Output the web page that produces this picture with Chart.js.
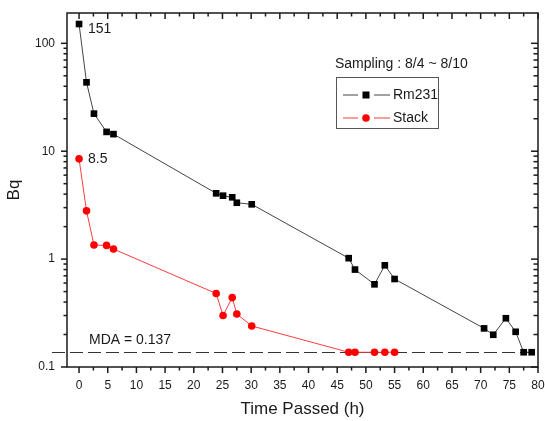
<!DOCTYPE html>
<html>
<head>
<meta charset="utf-8">
<title>Bq vs Time Passed</title>
<script src="https://cdn.jsdelivr.net/npm/chart.js@4.4.1/dist/chart.umd.min.js"></script>
<style>
    html, body { margin: 0; padding: 0; background: #fff; }
    #wrap { width: 545px; height: 421px; }
</style>
</head>
<body>
<div id="wrap"><canvas id="bqChart" width="545" height="421"></canvas></div>
<script>
(function () {
    'use strict';

    // ── Data ────────────────────────────────────────────────
    const timeHours = [0, 1.3, 2.6, 4.8, 6.0, 23.9, 25.1, 26.7, 27.5, 30.1,
                       47.0, 48.1, 51.5, 53.3, 55.0, 70.6, 72.2, 74.4, 76.1, 77.5, 78.9];
    const rm231     = [151, 43.5, 22.3, 15.1, 14.4, 4.07, 3.87, 3.74, 3.33, 3.22,
                       1.02, 0.80, 0.584, 0.876, 0.654, 0.228, 0.199, 0.283, 0.212, 0.137, 0.137];
    const stack     = [8.5, 2.8, 1.35, 1.34, 1.24, 0.48, 0.30, 0.44, 0.31, 0.24,
                       0.137, 0.137, 0.137, 0.137, 0.137];
    const seriesNames = ['Rm231', 'Stack'];
    const mdaValue    = 0.137;
    const yDecades    = [0.1, 1, 10, 100];
    const xMajorStep  = 5;
    const xRange      = [-2.1, 80];
    const yRange      = [0.1, 191];

    const FONT = "'Liberation Sans', Arial, sans-serif";
    const INK  = '#1a1a1a';

    Chart.defaults.font.family = FONT;
    Chart.defaults.color       = INK;

    const toPoints = (vals) => vals.map((v, i) => ({ x: timeHours[i], y: v }));

    // ── Frame, ticks, MDA line, notes, legend ───────────────
    const originStyle = {
        id: 'originStyle',
        beforeDatasetsDraw(chart) {
            const { ctx, chartArea: a, scales: { y } } = chart;
            const py = Math.round(y.getPixelForValue(mdaValue)) + 0.5;
            ctx.save();
            ctx.strokeStyle = '#333';
            ctx.lineWidth   = 1;
            ctx.setLineDash([13, 5]);
            ctx.beginPath();
            ctx.moveTo(a.left - 15, py);
            ctx.lineTo(a.right, py);
            ctx.stroke();
            ctx.restore();
        },
        afterDraw(chart) {
            const { ctx, chartArea: a, scales: { x, y } } = chart;
            ctx.save();
            ctx.strokeStyle = INK;
            ctx.lineWidth   = 1.5;
            ctx.strokeRect(a.left, a.top, a.right - a.left, a.bottom - a.top);

            const tick = (x1, y1, x2, y2) => {
                ctx.beginPath(); ctx.moveTo(x1, y1); ctx.lineTo(x2, y2); ctx.stroke();
            };

            // x ticks: outward at bottom, inward at top
            for (let v = 0; v <= xRange[1] + 0.01; v += xMajorStep / 2) {
                const px  = x.getPixelForValue(v);
                const len = (v % xMajorStep === 0) ? 6 : 3.5;
                tick(px, a.bottom, px, a.bottom + len);
                tick(px, a.top, px, a.top + len);
            }
            // y ticks: outward at left, inward at right
            yDecades.forEach(d => {
                for (let k = 1; k <= 9; k++) {
                    const v = k * d;
                    if (v > yRange[1]) break;
                    const py  = y.getPixelForValue(v);
                    const len = (k === 1) ? 6 : 3.5;
                    tick(a.left - len, py, a.left, py);
                    tick(a.right - len - 1, py, a.right, py);
                }
            });

            // point notes
            ctx.fillStyle    = INK;
            ctx.font         = '14px ' + FONT;
            ctx.textAlign    = 'left';
            ctx.textBaseline = 'middle';
            ctx.fillText(String(rm231[0]), x.getPixelForValue(timeHours[0]) + 9, y.getPixelForValue(rm231[0]) + 5);
            ctx.fillText(String(stack[0]), x.getPixelForValue(timeHours[0]) + 9, y.getPixelForValue(stack[0]));
            ctx.fillText('MDA = ' + mdaValue, a.left + 22, y.getPixelForValue(mdaValue) - 12);

            // legend block
            ctx.fillText('Sampling : 8/4 ~ 8/10', 335, 64);
            ctx.lineWidth = 1;
            ctx.strokeStyle = '#555';
            ctx.strokeRect(336.5, 77.5, 102, 51);
            const entries = [
                { name: seriesNames[0], line: '#444', fill: '#000', style: 'rect',   yy: 95 },
                { name: seriesNames[1], line: '#ff3b3b', fill: '#ff0000', style: 'circle', yy: 118 }
            ];
            entries.forEach(e => {
                ctx.strokeStyle = e.line;
                tick(343, e.yy, 358, e.yy);
                tick(374, e.yy, 390, e.yy);
                ctx.fillStyle = e.fill;
                if (e.style === 'rect') {
                    ctx.fillRect(362.5, e.yy - 3.5, 7, 7);
                } else {
                    ctx.beginPath(); ctx.arc(366, e.yy, 3.8, 0, Math.PI * 2); ctx.fill();
                }
                ctx.fillStyle = INK;
                ctx.fillText(e.name, 393, e.yy);
            });
            ctx.restore();
        }
    };

    new Chart(document.getElementById('bqChart'), {
        type: 'scatter',
        data: {
            datasets: [
                {
                    label:           seriesNames[0],
                    data:            toPoints(rm231),
                    showLine:        true,
                    borderColor:     '#444',
                    borderWidth:     1,
                    backgroundColor: '#000',
                    pointStyle:      'rect',
                    pointRadius:     4.7,
                    pointBorderWidth: 0,
                    pointBackgroundColor: '#000'
                },
                {
                    label:           seriesNames[1],
                    data:            toPoints(stack),
                    showLine:        true,
                    borderColor:     '#ff3b3b',
                    borderWidth:     1,
                    backgroundColor: '#ff0000',
                    pointStyle:      'circle',
                    pointRadius:     3.8,
                    pointBorderWidth: 0,
                    pointBackgroundColor: '#ff0000'
                }
            ]
        },
        options: {
            responsive: false,
            animation:  false,
            layout: { padding: { top: 13, right: 7, left: 0, bottom: 0 } },
            plugins: {
                legend:  { display: false },
                tooltip: { enabled: false }
            },
            scales: {
                x: {
                    type: 'linear',
                    min:  xRange[0],
                    max:  xRange[1],
                    grid:   { display: false, drawTicks: false },
                    border: { display: false },
                    ticks: {
                        stepSize: xMajorStep,
                        includeBounds: false,
                        autoSkip: false,
                        maxRotation: 0,
                        padding: 11,
                        font: { size: 12 },
                        callback: v => (v % xMajorStep === 0 ? String(v) : '')
                    },
                    title: {
                        display: true,
                        text: 'Time Passed (h)',
                        font: { size: 17 },
                        padding: { top: 0, bottom: 1 }
                    },
                    afterFit: s => {
                        s.height = 54;
                        s.paddingLeft = 0;
                        s.paddingRight = 0;
                    }
                },
                y: {
                    type: 'logarithmic',
                    min:  yRange[0],
                    max:  yRange[1],
                    grid:   { display: false, drawTicks: false },
                    border: { display: false },
                    ticks: {
                        autoSkip: false,
                        padding: 12,
                        font: { size: 12 },
                        callback: v => (yDecades.includes(v) ? String(v) : '')
                    },
                    title: {
                        display: true,
                        text: 'Bq',
                        font: { size: 17 },
                        padding: { top: 4, bottom: 0 }
                    },
                    afterFit: s => {
                        s.width = 67;
                        s.paddingTop = 0;
                        s.paddingBottom = 0;
                    }
                }
            }
        },
        plugins: [originStyle]
    });
})();
</script>
</body>
</html>
